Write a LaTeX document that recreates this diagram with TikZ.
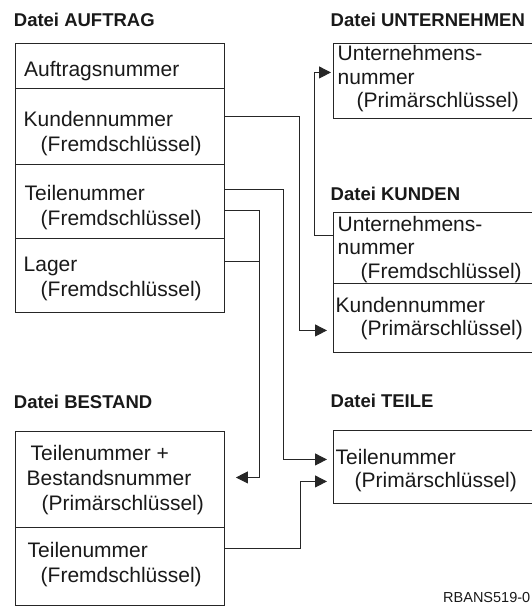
\documentclass[tikz,border=0pt]{standalone}
\usepackage{fontspec}
\setmainfont{Liberation Sans}
\usetikzlibrary{arrows.meta}

\tikzset{
  fld/.style={draw=black!85, line width=0.9pt, anchor=north west, inner sep=0pt, minimum width=209pt},
  txt/.style={anchor=north west, align=left, inner sep=0pt, text=black!90, font=\fontsize{21}{#1}\selectfont},
  txt/.default=25pt,
  ttl/.style={anchor=base west, inner sep=0pt, text=black!90, font=\bfseries\fontsize{18.5}{22}\selectfont},
  link/.style={draw=black!85, line width=0.9pt},
  pk/.style={link, -{Triangle[length=12pt,width=12pt]}}
}

\begin{document}
\begin{tikzpicture}[x=1pt, y=-1pt]
            \useasboundingbox (0,0) rectangle (531,606);

            % Datei AUFTRAG
            \node[ttl] (h-auf) at (13.7,26) {Datei AUFTRAG};
            \node[fld, minimum height=45pt] (afnr) at (15,43) {};
            \node[fld, minimum height=76pt] (afkd) at (15,88) {};
            \node[fld, minimum height=74pt] (aftl) at (15,164) {};
            \node[fld, minimum height=74pt] (aflg) at (15,238) {};
            \node[txt] (t-afnr) at (24,61.5) {Auftragsnummer};
            \node[txt] (t-afkd) at (23.5,111.5) {Kundennummer\\\hspace*{17pt}(Fremdschlüssel)};
            \node[txt] (t-aftl) at (24.5,185) {Teilenummer\\\hspace*{16pt}(Fremdschlüssel)};
            \node[txt] (t-aflg) at (23.5,257) {Lager\\\hspace*{17pt}(Fremdschlüssel)};

            % Datei UNTERNEHMEN
            \node[ttl] (h-unt) at (330.5,26) {Datei UNTERNEHMEN};
            \node[fld, minimum width=230pt, minimum height=75pt] (unr) at (333,43) {};
            \node[txt=23.5pt] (t-unr) at (337.5,45.5) {Unternehmens-\\nummer\\\hspace*{19pt}(Primärschlüssel)};

            % Datei KUNDEN
            \node[ttl] (h-kun) at (330.5,200) {Datei KUNDEN};
            \node[fld, minimum width=230pt, minimum height=71pt] (kunr) at (333,212) {};
            \node[fld, minimum width=230pt, minimum height=69pt] (kdnr) at (333,283) {};
            \node[txt=23.5pt] (t-kunr) at (337.5,216) {Unternehmens-\\nummer\\\hspace*{23pt}(Fremdschlüssel)};
            \node[txt=23.5pt] (t-kdnr) at (335.5,297) {Kundennummer\\\hspace*{25pt}(Primärschlüssel)};

            % Datei BESTAND
            \node[ttl] (h-bes) at (13.7,408.5) {Datei BESTAND};
            \node[fld, minimum height=96pt] (bsnr) at (15,431) {};
            \node[fld, minimum height=78pt] (bstl) at (15,527) {};
            \node[txt] (t-bsnr) at (26.5,445) {\hspace*{4pt}Teilenummer +\\Bestandsnummer\\\hspace*{15pt}(Primärschlüssel)};
            \node[txt] (t-bstl) at (27.5,542) {Teilenummer\\\hspace*{13pt}(Fremdschlüssel)};

            % Datei TEILE
            \node[ttl] (h-tei) at (330.5,407.5) {Datei TEILE};
            \node[fld, minimum width=230pt, minimum height=73pt] (tlnr) at (333,430) {};
            \node[txt=23.5pt] (t-tlnr) at (335.5,449) {Teilenummer\\\hspace*{19pt}(Primärschlüssel)};

            \node[anchor=base west, inner sep=0pt, text=black!90, font=\fontsize{14.5}{17}\selectfont] (fig) at (443,602) {RBANS519-0};

            % Schluesselverweise
            \draw[pk] ([yshift=10pt]afkd.east) -- ++(75pt,0) |- ([xshift=-6pt,yshift=-12.5pt]kdnr.west);
            \draw[pk] ([yshift=12.5pt]kunr.west) -- ++(-19pt,0) |- ([xshift=-2pt,yshift=8.5pt]unr.west);
            \draw[pk] ([yshift=12pt]aftl.east) -- ++(59pt,0) |- ([xshift=-6pt,yshift=7.5pt]tlnr.west);
            \draw[pk] ([yshift=-9pt]aftl.east) -- ++(35pt,0) |- ([xshift=11pt,yshift=2pt]bsnr.east);
            \draw[link] ([yshift=14pt]aflg.east) -- ++(35pt,0);
            \draw[pk] ([yshift=18pt]bstl.east) -- ++(76pt,0) |- ([xshift=-6pt,yshift=-14.5pt]tlnr.west);
\end{tikzpicture}
\end{document}
